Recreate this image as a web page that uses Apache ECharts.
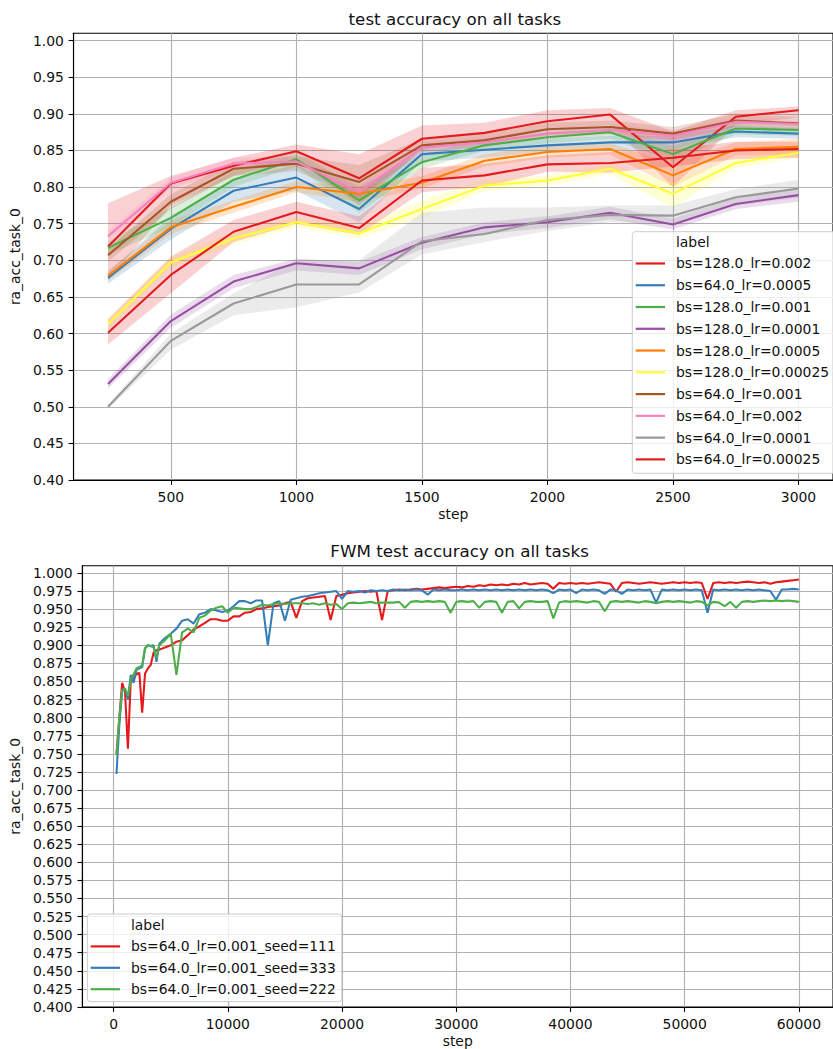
<!DOCTYPE html>
<html>
<head>
<meta charset="utf-8">
<script src="https://cdn.jsdelivr.net/npm/echarts@6/dist/echarts.min.js"></script>
<style>
html,body{margin:0;padding:0;background:#fff;}
#chart{width:833px;height:1049px;}
</style>
</head>
<body>
<div id="chart"></div>
<script>
// ---------------- TOP CHART DATA ----------------
const topSteps = [250, 500, 750, 1000, 1250, 1500, 1750, 2000, 2250, 2500, 2750, 3000];
const topXTicks = [500, 1000, 1500, 2000, 2500, 3000];
const topYTicks = [0.40, 0.45, 0.50, 0.55, 0.60, 0.65, 0.70, 0.75, 0.80, 0.85, 0.90, 0.95, 1.00];
const topLabels = ['bs=128.0_lr=0.002', 'bs=64.0_lr=0.0005', 'bs=128.0_lr=0.001', 'bs=128.0_lr=0.0001',
  'bs=128.0_lr=0.0005', 'bs=128.0_lr=0.00025', 'bs=64.0_lr=0.001', 'bs=64.0_lr=0.002',
  'bs=64.0_lr=0.0001', 'bs=64.0_lr=0.00025'];

// bs=128.0_lr=0.002
const mean128_002 = [0.719, 0.805, 0.829, 0.849, 0.812, 0.866, 0.874, 0.890, 0.899, 0.827, 0.896, 0.905];
const lo128_002   = [0.672, 0.775, 0.815, 0.838, 0.775, 0.852, 0.862, 0.878, 0.885, 0.800, 0.885, 0.895];
const hi128_002   = [0.778, 0.815, 0.840, 0.858, 0.845, 0.884, 0.888, 0.905, 0.908, 0.876, 0.905, 0.910];
// bs=64.0_lr=0.0005
const mean64_0005 = [0.676, 0.743, 0.795, 0.813, 0.770, 0.845, 0.851, 0.857, 0.861, 0.861, 0.876, 0.873];
const lo64_0005   = [0.668, 0.728, 0.780, 0.795, 0.752, 0.835, 0.840, 0.848, 0.850, 0.852, 0.868, 0.866];
const hi64_0005   = [0.684, 0.760, 0.810, 0.830, 0.792, 0.855, 0.860, 0.866, 0.870, 0.870, 0.884, 0.880];
// bs=128.0_lr=0.001
const mean128_001 = [0.717, 0.758, 0.810, 0.838, 0.782, 0.834, 0.857, 0.868, 0.875, 0.845, 0.880, 0.878];
const lo128_001   = [0.708, 0.745, 0.800, 0.828, 0.765, 0.825, 0.850, 0.860, 0.866, 0.835, 0.872, 0.870];
const hi128_001   = [0.726, 0.772, 0.822, 0.848, 0.800, 0.845, 0.866, 0.876, 0.884, 0.856, 0.888, 0.886];
// bs=128.0_lr=0.0001
const mean128_0001 = [0.531, 0.617, 0.671, 0.696, 0.689, 0.724, 0.745, 0.752, 0.765, 0.749, 0.777, 0.789];
const lo128_0001   = [0.525, 0.608, 0.662, 0.686, 0.680, 0.715, 0.736, 0.744, 0.756, 0.742, 0.770, 0.780];
const hi128_0001   = [0.538, 0.626, 0.680, 0.702, 0.698, 0.732, 0.752, 0.760, 0.773, 0.757, 0.785, 0.797];
// bs=128.0_lr=0.0005
const mean128_0005 = [0.679, 0.745, 0.773, 0.800, 0.791, 0.806, 0.836, 0.848, 0.852, 0.816, 0.852, 0.855];
const lo128_0005   = [0.672, 0.736, 0.765, 0.793, 0.780, 0.798, 0.828, 0.840, 0.844, 0.800, 0.843, 0.845];
const hi128_0005   = [0.686, 0.754, 0.782, 0.808, 0.800, 0.815, 0.845, 0.856, 0.860, 0.832, 0.861, 0.866];
// bs=128.0_lr=0.00025
const mean128_00025 = [0.613, 0.697, 0.730, 0.752, 0.737, 0.770, 0.802, 0.809, 0.825, 0.791, 0.833, 0.847];
const lo128_00025   = [0.606, 0.690, 0.722, 0.745, 0.730, 0.758, 0.795, 0.802, 0.818, 0.772, 0.826, 0.840];
const hi128_00025   = [0.620, 0.705, 0.738, 0.758, 0.745, 0.782, 0.810, 0.816, 0.832, 0.806, 0.840, 0.854];
// bs=64.0_lr=0.001
const mean64_001 = [0.707, 0.780, 0.825, 0.832, 0.807, 0.857, 0.864, 0.879, 0.882, 0.873, 0.891, 0.887];
const lo64_001   = [0.698, 0.770, 0.815, 0.822, 0.785, 0.848, 0.855, 0.870, 0.873, 0.864, 0.882, 0.878];
const hi64_001   = [0.716, 0.790, 0.835, 0.842, 0.830, 0.866, 0.873, 0.888, 0.891, 0.882, 0.900, 0.896];
// bs=64.0_lr=0.002
const mean64_002 = [0.733, 0.806, 0.832, 0.835, 0.793, 0.854, 0.861, 0.873, 0.878, 0.870, 0.889, 0.886];
const lo64_002   = [0.727, 0.798, 0.825, 0.828, 0.785, 0.847, 0.854, 0.866, 0.871, 0.862, 0.882, 0.879];
const hi64_002   = [0.740, 0.813, 0.840, 0.843, 0.802, 0.861, 0.868, 0.880, 0.885, 0.878, 0.896, 0.893];
// bs=64.0_lr=0.0001
const mean64_0001 = [0.500, 0.590, 0.641, 0.667, 0.667, 0.726, 0.736, 0.755, 0.762, 0.761, 0.786, 0.798];
const lo64_0001   = [0.497, 0.578, 0.625, 0.636, 0.656, 0.708, 0.725, 0.740, 0.752, 0.750, 0.775, 0.785];
const hi64_0001   = [0.503, 0.600, 0.655, 0.700, 0.700, 0.765, 0.772, 0.772, 0.775, 0.775, 0.797, 0.810];
// bs=64.0_lr=0.00025
const mean64_00025 = [0.601, 0.680, 0.739, 0.766, 0.744, 0.809, 0.816, 0.831, 0.833, 0.840, 0.850, 0.852];
const lo64_00025   = [0.585, 0.655, 0.725, 0.750, 0.735, 0.793, 0.800, 0.821, 0.820, 0.828, 0.838, 0.840];
const hi64_00025   = [0.620, 0.705, 0.755, 0.780, 0.760, 0.826, 0.832, 0.843, 0.848, 0.852, 0.862, 0.862];

const topMeans = [mean128_002, mean64_0005, mean128_001, mean128_0001, mean128_0005, mean128_00025, mean64_001, mean64_002, mean64_0001, mean64_00025];
const topLows  = [lo128_002, lo64_0005, lo128_001, lo128_0001, lo128_0005, lo128_00025, lo64_001, lo64_002, lo64_0001, lo64_00025];
const topHighs = [hi128_002, hi64_0005, hi128_001, hi128_0001, hi128_0005, hi128_00025, hi64_001, hi64_002, hi64_0001, hi64_00025];

// ---------------- BOTTOM CHART DATA ----------------
const botSteps = [250,500,750,1000,1250,1500,1750,2000,2250,2500,2750,3000,3250,3500,3750,4000,
  4500,5000,5500,6000,6500,7000,7500,8000,8500,9000,9500,10000,
  10500,11000,11500,12000,12500,13000,13500,14000,14500,15000,15500,16000,16500,17000,17500,18000,18500,19000,19500,20000,
  20500,21000,21500,22000,22500,23000,23500,24000,24500,25000,25500,26000,26500,27000,27500,28000,28500,29000,29500,30000,
  30500,31000,31500,32000,32500,33000,33500,34000,34500,35000,35500,36000,36500,37000,37500,38000,38500,39000,39500,40000,
  40500,41000,41500,42000,42500,43000,43500,44000,44500,45000,45500,46000,46500,47000,47500,48000,48500,49000,49500,50000,
  50500,51000,51500,52000,52500,53000,53500,54000,54500,55000,55500,56000,56500,57000,57500,58000,58500,59000,59500,60000];
const botXTicks = [0, 10000, 20000, 30000, 40000, 50000, 60000];
const botYTicks = [0.400,0.425,0.450,0.475,0.500,0.525,0.550,0.575,0.600,0.625,0.650,0.675,0.700,0.725,0.750,0.775,0.800,0.825,0.850,0.875,0.900,0.925,0.950,0.975,1.000];
const botLabels = ['bs=64.0_lr=0.001_seed=111', 'bs=64.0_lr=0.001_seed=333', 'bs=64.0_lr=0.001_seed=222'];

const seed111 = [0.750,0.800,0.848,0.835,0.757,0.852,0.855,0.860,0.862,0.807,0.861,0.868,0.873,0.890,0.893,0.894,
  0.897,0.900,0.905,0.907,0.914,0.922,0.926,0.931,0.936,0.936,0.934,0.934,
  0.940,0.940,0.945,0.946,0.950,0.951,0.953,0.954,0.955,0.958,0.960,0.938,0.961,0.965,0.966,0.967,0.968,0.935,0.968,0.970,
  0.972,0.973,0.974,0.975,0.974,0.975,0.935,0.975,0.976,0.977,0.976,0.977,0.978,0.977,0.978,0.979,0.980,0.979,0.980,0.981,
  0.980,0.982,0.981,0.983,0.982,0.984,0.983,0.984,0.983,0.985,0.984,0.986,0.984,0.985,0.986,0.985,0.978,0.986,0.985,0.986,
  0.985,0.986,0.985,0.986,0.987,0.986,0.985,0.974,0.986,0.987,0.986,0.985,0.986,0.987,0.986,0.985,0.986,0.987,0.986,0.987,
  0.986,0.987,0.986,0.964,0.986,0.987,0.986,0.987,0.986,0.987,0.988,0.987,0.986,0.987,0.985,0.987,0.988,0.989,0.990,0.991];
const seed333 = [0.722,0.790,0.838,0.840,0.825,0.859,0.848,0.866,0.868,0.870,0.896,0.900,0.899,0.900,0.877,0.902,
  0.910,0.916,0.923,0.934,0.936,0.930,0.943,0.945,0.950,0.948,0.946,0.948,
  0.954,0.961,0.961,0.958,0.962,0.962,0.900,0.958,0.961,0.934,0.963,0.965,0.967,0.968,0.970,0.972,0.973,0.974,0.975,0.964,
  0.975,0.974,0.975,0.973,0.976,0.975,0.976,0.975,0.977,0.976,0.977,0.976,0.977,0.976,0.970,0.977,0.976,0.977,0.976,0.976,
  0.977,0.976,0.977,0.976,0.977,0.976,0.977,0.976,0.977,0.976,0.977,0.976,0.977,0.976,0.977,0.976,0.972,0.977,0.976,0.977,
  0.972,0.977,0.976,0.977,0.976,0.971,0.977,0.976,0.971,0.977,0.976,0.977,0.976,0.977,0.959,0.977,0.976,0.977,0.976,0.977,
  0.976,0.977,0.976,0.945,0.977,0.976,0.977,0.976,0.977,0.976,0.977,0.976,0.977,0.976,0.975,0.963,0.977,0.977,0.978,0.977];
const seed222 = [0.748,0.800,0.838,0.840,0.830,0.852,0.860,0.868,0.870,0.872,0.896,0.900,0.899,0.897,0.882,0.900,
  0.907,0.916,0.859,0.918,0.923,0.918,0.938,0.941,0.948,0.952,0.954,0.945,
  0.952,0.951,0.950,0.950,0.953,0.956,0.955,0.957,0.958,0.957,0.958,0.958,0.958,0.957,0.958,0.956,0.958,0.956,0.957,0.950,
  0.958,0.959,0.958,0.959,0.960,0.958,0.959,0.959,0.959,0.960,0.952,0.960,0.961,0.960,0.961,0.960,0.961,0.960,0.945,0.960,
  0.961,0.960,0.961,0.952,0.960,0.961,0.960,0.945,0.960,0.961,0.951,0.960,0.961,0.960,0.960,0.961,0.937,0.959,0.961,0.960,
  0.961,0.960,0.959,0.961,0.960,0.947,0.960,0.961,0.960,0.961,0.960,0.959,0.961,0.960,0.958,0.960,0.961,0.960,0.961,0.960,
  0.959,0.961,0.960,0.955,0.960,0.959,0.954,0.960,0.952,0.960,0.961,0.960,0.961,0.962,0.961,0.962,0.961,0.962,0.961,0.960];
const botSeries = [seed111, seed333, seed222];

// ---------------- STYLE ----------------
const topColors = ['#e41a1c','#377eb8','#4daf4a','#984ea3','#ff7f00','#ffff33','#a65628','#f781bf','#999999','#e41a1c'];
const botColors = ['#e41a1c','#377eb8','#4daf4a'];
const FONT = 'DejaVu Sans';
const TXT = '#111111';

function rgba(hex, a) {
  const n = parseInt(hex.slice(1), 16);
  return 'rgba(' + ((n >> 16) & 255) + ',' + ((n >> 8) & 255) + ',' + (n & 255) + ',' + a + ')';
}

const series = [];
topLabels.forEach((name, k) => {
  const c = topColors[k];
  series.push({
    type: 'line', name: name, xAxisIndex: 0, yAxisIndex: 0,
    data: topSteps.map((s, i) => [s, topMeans[k][i]]),
    showSymbol: false, symbol: 'none', color: c,
    lineStyle: { width: 2.08, color: c }, itemStyle: { color: c },
    emphasis: { disabled: true }, silent: true
  });
  const lo = topLows[k], hi = topHighs[k];
  series.push({
    type: 'custom', xAxisIndex: 0, yAxisIndex: 0, silent: true,
    data: topSteps.map((s, i) => [s, lo[i], hi[i]]),
    encode: { x: 0, y: [1, 2] },
    renderItem: function (params, api) {
      if (params.dataIndex !== 0) return null;
      const up = topSteps.map((s, i) => api.coord([s, hi[i]]));
      const dn = topSteps.map((s, i) => api.coord([s, lo[i]])).reverse();
      return { type: 'polygon', shape: { points: up.concat(dn) }, style: { fill: rgba(c, 0.2), stroke: null } };
    }
  });
});
botLabels.forEach((name, k) => {
  const c = botColors[k];
  series.push({
    type: 'line', name: name, xAxisIndex: 1, yAxisIndex: 1,
    data: botSteps.map((s, i) => [s, botSeries[k][i]]),
    showSymbol: false, symbol: 'none', color: c,
    lineStyle: { width: 2.08, color: c }, itemStyle: { color: c },
    emphasis: { disabled: true }, silent: true
  });
});
series.push({ type: 'line', name: 'label', xAxisIndex: 0, yAxisIndex: 0, data: [], color: 'rgba(0,0,0,0)',
  lineStyle: { color: 'rgba(0,0,0,0)' }, itemStyle: { color: 'rgba(0,0,0,0)' } });

function xAxisCfg(grid, min, max, ticks, gap) {
  return {
    type: 'value', gridIndex: grid, min: min, max: max,
    name: 'step', nameLocation: 'middle', nameGap: gap,
    nameTextStyle: { fontFamily: FONT, fontSize: 13.9, color: TXT },
    axisLine: { show: true, onZero: false, lineStyle: { color: '#000', width: 1.1 } },
    axisTick: { show: true, inside: false, length: 4.9, lineStyle: { color: '#000', width: 1.1 }, customValues: ticks },
    axisLabel: { customValues: ticks, margin: 9.7, fontFamily: FONT, fontSize: 13.9, color: TXT, formatter: v => String(v) },
    splitLine: { show: true, lineStyle: { color: '#b0b0b0', width: 1.1 } }
  };
}
function yAxisCfg(grid, ticks, digits, gap) {
  return {
    type: 'value', gridIndex: grid, min: 0.4, max: 1.01,
    name: 'ra_acc_task_0', nameLocation: 'middle', nameGap: gap, nameRotate: 90,
    nameTextStyle: { fontFamily: FONT, fontSize: 13.9, color: TXT },
    axisLine: { show: true, onZero: false, lineStyle: { color: '#000', width: 1.1 } },
    axisTick: { show: true, inside: false, length: 4.9, lineStyle: { color: '#000', width: 1.1 }, customValues: ticks },
    axisLabel: { customValues: ticks, margin: 9.7, fontFamily: FONT, fontSize: 13.9, color: TXT, formatter: v => v.toFixed(digits) },
    splitLine: { show: true, lineStyle: { color: '#b0b0b0', width: 1.1 } }
  };
}

const legendCommon = {
  orient: 'vertical', icon: 'rect', itemHeight: 2.2, selectedMode: false,
  backgroundColor: 'rgba(255,255,255,0.8)', borderColor: '#cccccc', borderWidth: 1, borderRadius: 3,
  textStyle: { fontFamily: FONT, fontSize: 13.9, color: TXT, lineHeight: 15, padding: [0, 0, 0, 6] }
};

const option = {
  animation: false,
  backgroundColor: '#ffffff',
  title: [
    { text: 'test accuracy on all tasks', left: 454.9, top: 19, textAlign: 'center', textVerticalAlign: 'middle', padding: 0,
      textStyle: { fontFamily: FONT, fontSize: 16.7, fontWeight: 'normal', color: TXT } },
    { text: 'FWM test accuracy on all tasks', left: 459.6, top: 551, textAlign: 'center', textVerticalAlign: 'middle', padding: 0,
      textStyle: { fontFamily: FONT, fontSize: 16.7, fontWeight: 'normal', color: TXT } }
  ],
  grid: [
    { left: 71.7, top: 33.3, width: 766.4, height: 446.7, show: true, borderColor: '#000', borderWidth: 1.1, backgroundColor: 'rgba(0,0,0,0)', containLabel: false },
    { left: 80.7, top: 565.7, width: 757.8, height: 443.3, show: true, borderColor: '#000', borderWidth: 1.1, backgroundColor: 'rgba(0,0,0,0)', containLabel: false }
  ],
  xAxis: [ xAxisCfg(0, 112.5, 3137.5, topXTicks, 27), xAxisCfg(1, -2737.5, 62987.5, botXTicks, 27) ],
  yAxis: [ yAxisCfg(0, topYTicks, 2, 47), yAxisCfg(1, botYTicks, 3, 56) ],
  legend: [
    Object.assign({}, legendCommon, { left: 632.3, top: 231.7, data: ['label'].concat(topLabels),
      itemWidth: 29.3, itemGap: 6.77, padding: [2.5, 6, 6.4, 3.4] }),
    Object.assign({}, legendCommon, { left: 87.3, top: 914, data: ['label'].concat(botLabels),
      itemWidth: 29.3, itemGap: 6.4, padding: [3.5, 6, 4.9, 3.4] })
  ],
  series: series
};

const chart = echarts.init(document.getElementById('chart'), null, { renderer: 'svg', width: 833, height: 1049 });
chart.setOption(option);
</script>
</body>
</html>
